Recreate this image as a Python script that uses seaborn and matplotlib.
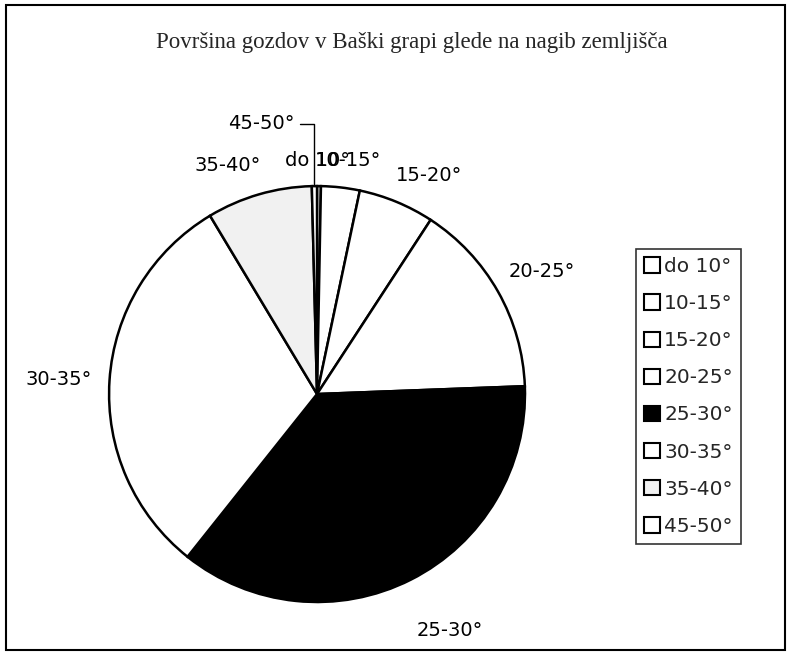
import matplotlib
matplotlib.use("Agg")
import matplotlib.pyplot as plt
import seaborn as sns
import numpy as np
from matplotlib.patches import Rectangle

# Podatki: površina gozdov po naklonu (delež v %)
kategorije = ['do 10°', '10-15°', '15-20°', '20-25°', '25-30°', '30-35°', '35-40°', '45-50°']
delezi = [0.3, 3.0, 5.9, 15.2, 36.3, 30.7, 8.2, 0.4]
barve = ['white', 'white', 'white', 'white', 'black', 'white', '#f1f1f1', 'white']

# položaji oznak (v koordinatah osi, polmer pite = 1) in poravnava
oznake_xy = [(-0.154, 1.125), (-0.01, 1.125), (0.54, 1.05), (1.08, 0.59),
             (0.64, -1.135), (-1.24, 0.07), (-0.43, 1.10), (-0.27, 1.30)]
poravnava = ['left', 'left', 'center', 'center', 'center', 'center', 'center', 'center']

sns.set_theme(style="white")
plt.rcParams['font.family'] = ['DejaVu Sans']

fig = plt.figure(figsize=(7.91, 6.55), dpi=100)
fig.patch.set_facecolor('white')
ax = fig.add_axes([0.1378, 0.0809, 0.526, 0.635])

wedges, _ = ax.pie(delezi, colors=barve, startangle=90, counterclock=False,
                   wedgeprops=dict(edgecolor='black', linewidth=1.8))
ax.set_xlim(-1, 1)
ax.set_ylim(-1, 1)
ax.set_aspect('equal')
ax.axis('off')

for ime, (x, y), ha in zip(kategorije, oznake_xy, poravnava):
    ax.text(x, y, ime, ha=ha, va='center', fontsize=14, color='black')

# vodilna črta za najmanjši izsek (45-50°)
w = wedges[-1]
kot = np.deg2rad((w.theta1 + w.theta2) / 2)
xr, yr = np.cos(kot), np.sin(kot)
ax.plot([-0.08, xr, xr], [1.30, 1.30, yr], color='black', lw=1, clip_on=False)

fig.text(0.52, 0.935, 'Površina gozdov v Baški grapi glede na nagib zemljišča',
         ha='center', va='center', fontsize=16.5, family='Liberation Serif')

leg = fig.legend(wedges, kategorije, loc='upper left', bbox_to_anchor=(0.804, 0.62),
                 frameon=True, fancybox=False, edgecolor='black', fontsize=14.5,
                 handlelength=0.8, handleheight=0.8, handletextpad=0.2,
                 labelspacing=0.9, borderpad=0.4, borderaxespad=0)
leg.get_frame().set_linewidth(1.2)
for h in leg.legend_handles:
    h.set_linewidth(1.5)

fig.patches.append(Rectangle((0.007, 0.007), 0.986, 0.986, transform=fig.transFigure,
                             fill=False, edgecolor='black', linewidth=1.5))

fig.savefig('out.png', dpi=100)
